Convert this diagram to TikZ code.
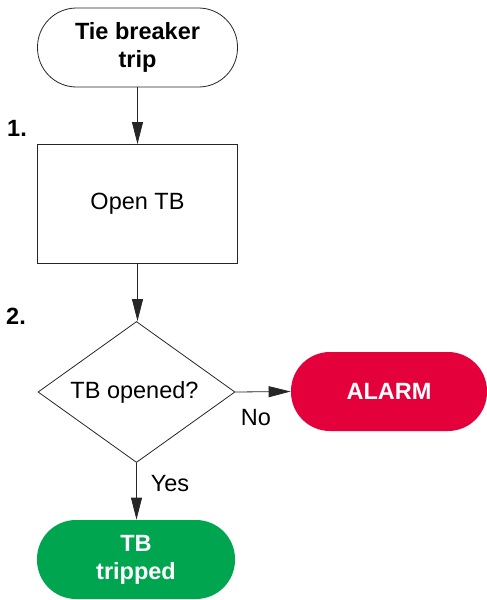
\documentclass[tikz,border=0pt]{standalone}
\usepackage{fontspec}
\setmainfont{Liberation Sans}
\usetikzlibrary{shapes.geometric,arrows.meta}
\definecolor{alarmred}{HTML}{E4003A}
\definecolor{okgreen}{HTML}{00A54F}
\begin{document}
\begin{tikzpicture}[x=1pt,y=-1pt,
  every node/.style={font=\fontsize{23.5}{28}\selectfont},
  term/.style={rectangle, rounded corners=39pt, minimum height=79pt, align=center, inner sep=0pt, line width=0.8pt},
  procbox/.style={rectangle, draw=black!85, line width=0.8pt, minimum width=200pt, minimum height=119pt},
  decbox/.style={diamond, draw=black!85, line width=0.8pt, minimum width=197pt, minimum height=141pt, inner sep=0pt},
  conn/.style={draw=black!85, line width=0.8pt, -{Triangle[length=22pt,width=11pt]}},
  lbl/.style={font=\fontsize{23.5}{28}\selectfont},
  stepnum/.style={font=\fontsize{23.5}{28}\selectfont\bfseries}
]
\useasboundingbox (0,0) rectangle (487,600);
\node[term, draw=black!85, minimum width=200pt, font=\fontsize{23.5}{28}\selectfont\bfseries] (start) at (137.5,47.5) {Tie breaker\\trip};
\node[procbox] (open) at (137.5,204) {Open TB};
\node[decbox] (dec) at (136.5,392) {};
\node (dectext) at (134.5,392) {TB opened?};
\node[term, fill=alarmred, minimum width=196pt, text=white, font=\fontsize{23.5}{28}\selectfont\bfseries] (alarm) at (389,391.5) {ALARM};
\node[term, fill=okgreen, minimum width=198pt, text=white, font=\fontsize{23.5}{28}\selectfont\bfseries] (done) at (136,559.5) {TB\\tripped};
\node[stepnum] (n1) at (17,128) {1.};
\node[stepnum] (n2) at (16,316) {2.};
\node[lbl] (no) at (256,418) {No};
\node[lbl] (yes) at (170,484) {Yes};
\draw[conn] (start.south -| open.north) -- (open.north);
\draw[conn] (open.south) -- (open.south |- dec.north);
\draw[conn] (dec.east) -- (alarm.west);
\draw[conn] (dec.south) -- (done.north -| dec.south);
\end{tikzpicture}
\end{document}
